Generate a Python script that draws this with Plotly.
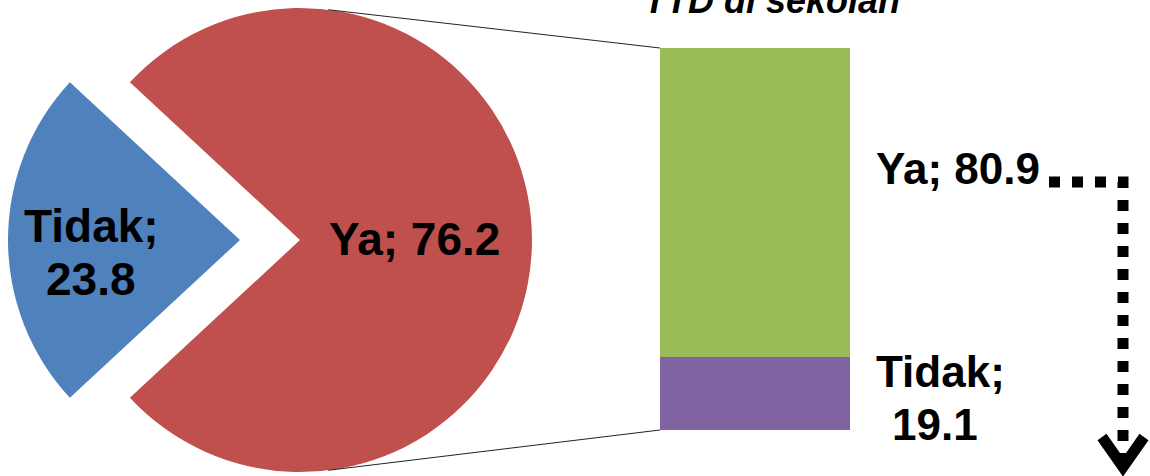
import math
import plotly.graph_objects as go

# ---- data ----
pie_labels = ["Tidak", "Ya"]
pie_values = [23.8, 76.2]
pie_colors = ["#4F81BD", "#C0504D"]

bar_labels = ["Tidak", "Ya"]
bar_values = [19.1, 80.9]
bar_colors = ["#8064A2", "#9BBB59"]

title_text = "TTD di sekolah"

# ---- layout geometry (pixels) ----
W, H = 1150, 476
FONT = "Liberation Sans, Arial, sans-serif"


def px(x):
    return x / W


def py(y):
    return 1 - y / H


R = 232
red_c = (300, 240)
blue_c = (240, 240)
bar_x0, bar_x1, bar_top, bar_bot = 660, 850, 48, 430


def pie_domain(c):
    return dict(x=[px(c[0] - R), px(c[0] + R)], y=[py(c[1] + R), py(c[1] - R)])


total = sum(pie_values)
rotation = 270 - (pie_values[0] / total) * 360 / 2
transparent = "rgba(0,0,0,0)"

fig = go.Figure()
# red (Ya) slice
fig.add_trace(go.Pie(
    labels=pie_labels, values=pie_values, sort=False, direction="clockwise",
    rotation=rotation, domain=pie_domain(red_c), textinfo="none",
    marker=dict(colors=[transparent, pie_colors[1]], line=dict(width=0)),
    showlegend=False, hoverinfo="label+value"))
# exploded blue (Tidak) slice
fig.add_trace(go.Pie(
    labels=pie_labels, values=pie_values, sort=False, direction="clockwise",
    rotation=rotation, domain=pie_domain(blue_c), textinfo="none",
    marker=dict(colors=[pie_colors[0], transparent], line=dict(width=0)),
    showlegend=False, hoverinfo="label+value"))

# stacked bar
for lab, val, col in zip(bar_labels, bar_values, bar_colors):
    fig.add_trace(go.Bar(x=[0], y=[val], name=lab, marker=dict(color=col, line=dict(width=0)),
                         width=1, showlegend=False, xaxis="x", yaxis="y"))

fig.update_layout(
    width=W, height=H, margin=dict(l=0, r=0, t=0, b=0),
    paper_bgcolor="white", plot_bgcolor="rgba(0,0,0,0)",
    barmode="stack",
    xaxis=dict(domain=[px(bar_x0), px(bar_x1)], range=[-0.5, 0.5], visible=False, fixedrange=True),
    yaxis=dict(domain=[py(bar_bot), py(bar_top)], range=[0, sum(bar_values)], visible=False, fixedrange=True),
)

# connector lines from pie edge to bar corners
ang = math.radians(7)
top_pt = (red_c[0] + R * math.sin(ang), red_c[1] - R * math.cos(ang))
bot_pt = (red_c[0] + R * math.sin(ang), red_c[1] + R * math.cos(ang))
for p, q in [(top_pt, (bar_x0, bar_top)), (bot_pt, (bar_x0, bar_bot))]:
    fig.add_shape(type="line", xref="paper", yref="paper",
                  x0=px(p[0]), y0=py(p[1]), x1=px(q[0]), y1=py(q[1]),
                  line=dict(color="#222222", width=1))

# dotted arrow
fig.add_shape(type="path", xref="paper", yref="paper",
              path=f"M {px(1049)},{py(182)} L {px(1123)},{py(182)} L {px(1123)},{py(462)}",
              line=dict(color="black", width=11, dash="11px,12px"))
fig.add_shape(type="path", xref="paper", yref="paper",
              path=f"M {px(1102)},{py(437)} L {px(1123)},{py(467)} L {px(1144)},{py(437)}",
              line=dict(color="black", width=11))


def label(text, x, y, size=46, **kw):
    fig.add_annotation(text=text, x=px(x), y=py(y), xref="paper", yref="paper",
                       xanchor="center", yanchor="middle", showarrow=False,
                       font=dict(family=FONT, size=size, color="black", weight="bold", **kw))


# pie labels
label(f"{pie_labels[1]}; {pie_values[1]}", 414, 239)
label(f"{pie_labels[0]};", 91, 226)
label(f"{pie_values[0]}", 91, 279)

# bar labels
label(f"{bar_labels[1]}; {bar_values[1]}", 958, 168, size=44)
label(f"{bar_labels[0]};", 940, 371, size=44)
label(f"{bar_values[0]}", 935, 424, size=44)

# clipped title (the reference shows only its lower part at the top edge)
label(title_text, 772, 0.5, size=36, style="italic")

fig.write_html("out.html", config={"displayModeBar": False},
               post_script="document.body.style.margin='0';document.body.style.overflow='hidden';")
